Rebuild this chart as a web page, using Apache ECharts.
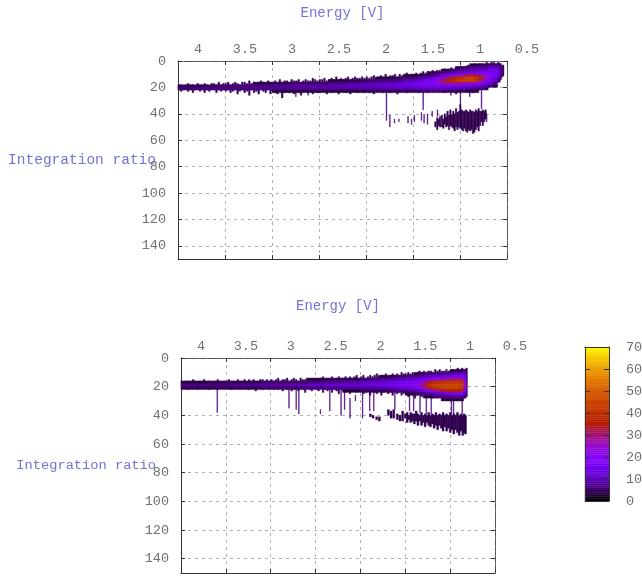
<!DOCTYPE html>
<html><head><meta charset="utf-8">
<script src="https://cdn.jsdelivr.net/npm/echarts@6/dist/echarts.min.js"></script>
<style>html,body{margin:0;padding:0;background:#fff}#c{width:642px;height:576px;filter:blur(0.55px)}</style>
</head><body><div id="c"></div>
<script>
const energyTicks = [4, 3.5, 3, 2.5, 2, 1.5, 1, 0.5];
const ratioTicks = [0, 20, 40, 60, 80, 100, 120, 140];
const colorTicks = [0, 10, 20, 30, 40, 50, 60, 70];
const paletteColors = ['#000000','#44006f','#6001c7','#7603f1','#8806f9','#980cc7','#a7146f','#b42000','#c13000','#cc4400','#d75d00','#e27c00','#eca100','#f6cc00','#ffff00'];
const colorLevels = [0,1,2,3,4,5,6,7,8,9,10,11,12,13,14,15,16,17,18,19,20,21,22,23,24,25,26,27,28,29,30,31,32,33,34,35,36,37,38,39,40,41,42,43,44,45,46,47,48,49,50,51,52,53,54,55,56,57,58,59,60,61,62,63,64,65,66,67,68,69];
const fringeStep = 0.025;
const edgeValue = 3.5;
const spikeValue = 6;
const blobValue = 3.5;
const binHeight = 2;

// [energy from, energy to, first ratio bin, counts in 2-unit ratio bins...]
const upperBody = [
[4.0,3.8,18,4,5],[3.8,3.6,18,4,6],[3.6,3.4,18,5,6],[3.4,3.2,18,6,6],[3.2,3.0,16,3,6,7],[3.0,2.8,16,4,7,7,3],[2.8,2.6,16,5,8,7,3],
[2.6,2.4,16,5,8,8,3],[2.4,2.2,14,3,6,9,8,3],[2.2,2.0,14,4,7,10,8,3],[2.0,1.9,14,5,8,11,8,4],[1.9,1.8,12,3,6,9,11,8,4],
[1.8,1.7,12,3,6,10,12,9,4],[1.7,1.6,12,4,7,11,13,9,4],[1.6,1.5,10,3,5,9,13,13,9,4],[1.5,1.45,10,3,6,11,14,14,9,4],[1.45,1.4,10,4,7,12,15,15,10,4],
[1.4,1.35,10,4,9,14,17,16,10,5],[1.35,1.3,8,3,5,11,16,18,16,10,5],[1.3,1.25,8,4,7,14,18,20,16,10,5],[1.25,1.2,8,5,9,17,23,23,17,10,5],[1.2,1.15,6,3,6,12,24,31,27,17,10,4],
[1.15,1.1,6,4,7,15,30,34,28,18,10,4],[1.1,1.05,6,5,9,18,35,38,29,18,10,4],[1.05,1.0,4,3,6,11,23,38,41,29,17,9,4],[1.0,0.95,4,4,7,12,27,41,44,27,16,8,4],[0.95,0.9,4,5,8,14,30,44,45,26,15,8,3],
[0.9,0.85,2,3,6,9,15,33,46,44,25,14,7,3],[0.85,0.8,2,3,6,10,16,32,43,40,23,13,6,3],[0.8,0.75,2,4,7,11,17,28,36,30,20,11,5],[0.75,0.7,2,4,8,12,17,23,26,22,16,9,4],[0.7,0.65,2,5,10,14,17,19,19,16,11,6],
[0.65,0.6,2,5,11,15,16,16,14,11,7,3],[0.6,0.57,2,4,10,12,12,11,8,5],[0.57,0.54,4,5,6,6,5]
];
const lowerBody = [
[4.0,3.7,16,3,6,4],[3.7,3.4,16,4,6,4],[3.4,3.1,16,4,7,4],[3.1,2.8,16,5,8,5],[2.8,2.6,16,5,9,5],[2.6,2.4,14,3,6,10,6],[2.4,2.2,14,4,7,11,7],[2.2,2.0,14,4,8,12,7,3],
[2.0,1.9,14,5,10,12,8,4],[1.9,1.8,14,6,11,13,8,4],[1.8,1.7,12,3,7,12,14,9,4],[1.7,1.6,12,4,8,13,15,10,5],[1.6,1.5,12,5,9,15,17,12,6],[1.5,1.45,12,6,11,16,18,13,6,3],[1.45,1.4,12,6,12,17,20,15,8,3],
[1.4,1.35,10,3,7,13,18,22,17,9,4],[1.35,1.3,10,4,8,14,21,26,20,11,5],[1.3,1.25,10,5,10,17,28,33,28,15,7,3],[1.25,1.2,10,5,11,19,35,40,36,19,8,3],[1.2,1.15,10,6,12,22,38,44,40,24,10,4],[1.15,1.1,10,6,13,24,40,45,43,29,12,5],
[1.1,1.05,10,7,14,26,41,45,44,32,14,6,3],[1.05,1.0,10,7,14,28,42,46,44,34,15,7,3],[1.0,0.95,8,3,8,15,29,42,46,45,35,16,7,3],[0.95,0.9,8,4,9,16,30,43,46,45,35,17,8,3],[0.9,0.85,8,4,10,17,30,41,45,43,33,18,8,3],[0.85,0.82,8,5,10,15,20,24,26,24,18,11,5]
];

// Rough outer edge of each band, one entry per fringeStep from 4 V downwards
const upperEdgeTop = [18,18,19,18,17,18,18,19,17,18,18,17,18,19,17,17,18,16,18,17, 17,16,18,17,16,17,18,16,16,17,15,17,16,17,16,15,16,17,15,16, 16,15,16,14,16,15,15,16,14,15,15,14,16,15,14,15,15,13,14,15, 14,14,13,15,14,13,14,12,14,13,14,13,12,14,13,12,13,13,12,13, 12,13,12,11,13,12,11,12,10,12,11,11,10,12,10,11,10,9,11,10, 10,9,10,9,8,9,8,9,7,8,7,7,8,6,7,6,5,6,5,5, 4,5,4,3,4,3,2,3,2,2,3,1,2,1,1,2,1,2,3];
const upperEdgeBottom = [22,23,22,21,23,22,24,22,21,23,22,24,22,23,21,22,24,22,23,22, 23,22,24,23,22,25,23,22,24,23,26,22,24,23,25,22,23,24,22,25, 23,24,25,22,28,24,23,24,22,25,23,24,26,23,22,24,23,25,22,24, 24,22,23,25,22,24,23,22,25,23,22,24,23,25,22,23,24,22,23,24, 22,24,23,25,22,23,22,24,23,22,24,22,23,25,22,23,22,24,23,22, 23,22,24,22,23,22,24,21,23,22,21,23,22,24,21,22,23,21,25,22, 21,23,20,22,21,24,20,21,22,20,21,19,20,19,18,17,16,14,11];
const lowerEdgeTop = [16,17,16,16,17,15,16,17,16,16,15,17,16,16,17,16,15,16,17,16, 16,15,16,16,17,15,16,16,15,17,15,16,15,16,16,15,15,16,15,16, 15,16,15,14,16,15,15,14,16,15,14,15,16,14,15,15,14,15,14,15, 14,15,14,13,15,14,14,13,15,14,13,14,14,13,14,13,14,13,12,14, 13,12,14,13,12,13,12,11,13,12,12,11,13,12,11,12,11,12,10,11, 11,10,11,10,11,10,9,10,9,10,9,9,10,8,9,8,9,9,8,9,8,8,9,7,8,7,8,7];
const lowerEdgeBottom = [21,20,21,22,20,21,20,22,21,20,21,20,22,21,20,21,22,20,21,20, 21,20,22,21,20,21,22,20,21,21,22,20,21,23,20,21,22,20,21,22, 21,22,20,22,21,23,21,22,21,23,22,21,23,21,22,24,21,22,23,21, 22,23,21,24,22,23,22,24,22,23,25,22,23,24,22,25,23,22,24,23, 23,25,24,22,26,23,24,25,23,26,24,23,25,24,26,23,25,24,26,25, 25,27,25,26,28,26,25,27,26,27,26,27,28,26,28,26,27,28,27,29,28,28,27,29,28,30,28,27];

// Thin vertical traces: [energy, ratio from, ratio to]
const upperSpikes = [[2.75,22,27],[2.62,22,26],[1.786,20,45],[1.396,20,37],[1.0,20,33],[0.775,18,36],[1.1,20,26],[0.9,20,27],
[1.75,41,50],[1.70,44,47],[1.654,44,46],[1.557,42,47],[1.52,44,48],[1.49,41,46],[1.414,39,45],[1.386,41,47],[1.35,40,48],[1.30,38,42],[1.243,37,42],[0.72,40,46]];
const lowerSpikes = [[3.60,20,38],[2.80,20,35],[2.72,20,36],[2.69,20,39],[2.345,20,37],[2.22,20,40],[2.18,20,36],[1.98,22,42],[1.90,22,37],[1.855,22,37],[1.62,22,36],[1.456,24,37],[1.41,24,37],[1.34,24,38],[1.27,24,39],[1.215,26,39],[0.99,26,39],[0.965,26,40],[0.87,26,39],[2.06,26,30],[2.12,28,42],[2.45,36,39]];
const upperBlob = [[1.27,46,50],[1.25,43,52],[1.235,44,49],[1.22,42,50],[1.20,41,50],[1.185,44,51],[1.17,40,48],[1.155,42,50],[1.14,38,49],[1.125,41,52],[1.11,37,49],[1.095,41,50],[1.08,38,51],[1.065,40,53],[1.05,36,50],[1.035,39,52],[1.02,38,50],[1.005,33,51],[0.99,37,52],[0.975,38,53],[0.96,38,51],[0.945,37,53],[0.93,38,54],[0.915,39,52],[0.90,37,53],[0.885,38,52],[0.87,38,55],[0.855,39,54],[0.84,37,52],[0.825,38,50],[0.81,36,53],[0.795,38,49],[0.78,38,46],[0.765,37,49],[0.75,38,46],[0.735,37,44]];
const lowerBlob = [[1.90,39,41],[1.87,40,42],[1.83,41,43],[1.80,41,44],[1.70,36,40],[1.67,37,42],[1.64,36,42],[1.60,39,43],[1.57,40,44],[1.54,37,44],[1.51,39,42],[1.49,38,45],[1.47,40,43],[1.45,38,45],[1.43,39,44],[1.41,39,46],[1.39,37,44],[1.37,39,47],[1.35,40,44],[1.33,38,47],[1.31,40,45],[1.29,39,48],[1.27,40,45],[1.25,38,47],[1.23,40,48],[1.21,39,46],[1.19,40,49],[1.17,38,47],[1.15,40,50],[1.13,39,47],[1.11,40,49],[1.09,38,51],[1.07,40,48],[1.05,39,51],[1.03,40,49],[1.01,38,52],[0.99,40,50],[0.97,39,53],[0.95,40,50],[0.93,38,52],[0.91,40,54],[0.89,39,51],[0.87,40,54],[0.855,39,52],[0.84,40,53]];

const FONT = 'Liberation Mono';
const titleColor = '#7272da', tickColor = '#707070', frame = '#333', frame2 = '#555', gridCol = '#b0b0b0';

function bodyCells(rows){
  const out = [];
  rows.forEach(r => { for (let i = 3; i < r.length; i++) {
    const y0 = r[2] + (i - 3) * binHeight;
    out.push([r[0], r[1], y0, y0 + binHeight, r[i]]);
  }});
  return out;
}
function edgeCells(tops, bottoms){
  return tops.map((t, i) => { const e = 4 - i * fringeStep; return [e, e - fringeStep * 0.7, t, bottoms[i], edgeValue]; });
}
function traceCells(list, width, value){
  return list.map(s => [s[0], s[0] - width, s[1], s[2], value]);
}
function cell(params, api){
  const a = api.coord([api.value(0), api.value(2)]), b = api.coord([api.value(1), api.value(3)]);
  const c = api.visual('color');
  return {type:'rect', shape:{x:Math.min(a[0],b[0]), y:Math.min(a[1],b[1]), width:Math.abs(a[0]-b[0]), height:Math.abs(a[1]-b[1])}, style:{fill:c, stroke:c, lineWidth:0.4}};
}
function layer(data, ax){
  return {type:'custom', renderItem:cell, data, xAxisIndex:ax, yAxisIndex:ax, encode:{x:[0,1], y:[2,3]}, silent:true, animation:false};
}
function energyAxis(gridIndex, main, gap){
  return {type:'value', gridIndex, inverse:true, min:0.5, max:4, interval:0.5, position:main?'top':'bottom',
    name: main?'Energy [V]':'', nameLocation:'center', nameGap:gap, nameMoveOverlap:false, nameTextStyle:{fontFamily:FONT,fontSize:14,color:titleColor},
    axisLine:{show:true,onZero:false,lineStyle:{color:main?frame2:frame,type:main?[8,1]:'solid'}}, axisTick:{show:true,inside:true,length:4,lineStyle:{color:frame}},
    axisLabel:{show:main,fontFamily:FONT,fontSize:13.5,color:tickColor,margin:5,align:'center',padding:[0,0,0,40],formatter:v=>String(v),showMinLabel:true,showMaxLabel:true},
    splitLine:{show:main,lineStyle:{type:[3,4],color:gridCol}}};
}
function ratioAxis(gridIndex, main, size, gap){
  return {type:'value', gridIndex, inverse:true, min:0, max:150, interval:20, position:main?'left':'right',
    name: main?'Integration ratio':'', nameLocation:'center', nameRotate:0, nameGap:gap, nameMoveOverlap:false, nameTextStyle:{fontFamily:FONT,fontSize:size,color:titleColor},
    axisLine:{show:true,onZero:false,lineStyle:{color:main?frame:frame2,type:main?'solid':[8,1]}}, axisTick:{show:true,inside:true,length:4,lineStyle:{color:frame}},
    axisLabel:{show:main,fontFamily:FONT,fontSize:13.5,color:tickColor,margin:12,showMaxLabel:false},
    splitLine:{show:main,lineStyle:{type:[3,4],color:gridCol}}};
}
function barX(main){
  return {type:'value', gridIndex:2, min:0, max:1, position:main?'top':'bottom', z:5, axisLine:{show:true,onZero:false,lineStyle:{color:frame}}, axisTick:{show:false}, axisLabel:{show:false}, splitLine:{show:false}};
}
function barY(main){
  return {type:'value', gridIndex:2, min:0, max:70, interval:10, position:main?'right':'left', z:5,
    axisLine:{show:true,onZero:false,lineStyle:{color:frame}}, axisTick:{show:true,inside:true,length:5,lineStyle:{color:frame}},
    axisLabel:{show:main,fontFamily:FONT,fontSize:13.5,color:tickColor,margin:17,align:'left'}, splitLine:{show:false}};
}
const option = {
  animation:false, backgroundColor:'#fff',
  grid:[{left:178,top:61,width:329,height:198,outerBoundsMode:'none'},{left:181,top:358,width:314,height:215,outerBoundsMode:'none'},{left:585,top:347,width:24,height:154,outerBoundsMode:'none'}],
  xAxis:[energyAxis(0,true,41),energyAxis(0,false,41),energyAxis(1,true,45),energyAxis(1,false,45),barX(true),barX(false)],
  yAxis:[ratioAxis(0,true,14.5,22),ratioAxis(0,false,14.5,22),ratioAxis(1,true,13.7,25),ratioAxis(1,false,13.7,25),barY(true),barY(false)],
  visualMap:{type:'continuous', show:false, min:0, max:70, dimension:4, seriesIndex:[0,1,2,3,4,5,6,7,8], inRange:{color:paletteColors}},
  series:[
    layer(edgeCells(upperEdgeTop,upperEdgeBottom),0),
    layer(traceCells(upperSpikes,0.008,spikeValue),0),
    layer(traceCells(upperBlob,0.016,blobValue),0),
    layer(bodyCells(upperBody),0),
    layer(edgeCells(lowerEdgeTop,lowerEdgeBottom),2),
    layer(traceCells(lowerSpikes,0.008,spikeValue),2),
    layer(traceCells(lowerBlob,0.022,blobValue),2),
    layer(bodyCells(lowerBody),2),
    layer(colorLevels.map(l=>[0,1,l,l+1,l]),4)
  ]
};
echarts.init(document.getElementById('c'),null,{renderer:'canvas'}).setOption(option);
</script></body></html>
